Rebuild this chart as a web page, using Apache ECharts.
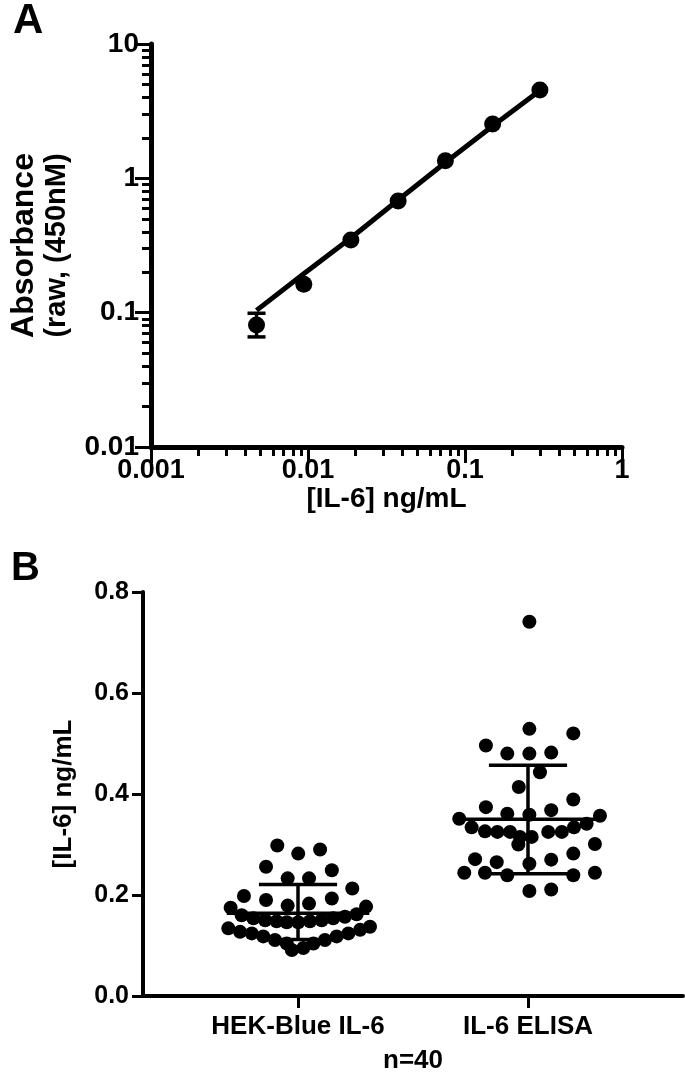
<!DOCTYPE html>
<html>
<head>
<meta charset="utf-8">
<script src="https://cdn.jsdelivr.net/npm/echarts@6/dist/echarts.min.js"></script>
<style>
html, body { margin: 0; padding: 0; background: #fff; }
#chart { width: 685px; height: 1075px; }
</style>
</head>
<body>
<div id="chart"></div>
<script>
// ---- panel A : standard curve ----
var aConc = [0.0047, 0.0094, 0.01875, 0.0375, 0.075, 0.15, 0.3];
var aAbs = [0.081, 0.163, 0.347, 0.677, 1.35, 2.54, 4.54];
var aFit = [0.104, 0.195, 0.36, 0.69, 1.31, 2.45, 4.5];
var aErrLow = [0.066, null, null, null, null, null, null];
var aErrHigh = [0.099, null, null, null, null, null, null];
var aXTicks = [0.001, 0.01, 0.1, 1];
var aYTicks = [0.01, 0.1, 1, 10];

// ---- panel B : HEK-Blue vs ELISA, n=40 ----
var bCategories = ['HEK-Blue IL-6', 'IL-6 ELISA'];
var hekValues = [0.298, 0.282, 0.290, 0.256, 0.249, 0.233, 0.233, 0.213, 0.198, 0.190,
    0.179, 0.183, 0.193, 0.175, 0.177,
    0.160, 0.154, 0.150, 0.148, 0.146, 0.146, 0.148, 0.150, 0.154, 0.157, 0.162,
    0.134, 0.127, 0.124, 0.118, 0.111, 0.104, 0.091, 0.095, 0.104, 0.111, 0.118, 0.124, 0.131, 0.137];
// horizontal scatter of each dot around its group, in category units
var hekSpread = [-0.090, 0.001, 0.096, -0.139, 0.147, -0.045, 0.048, 0.236, -0.235, -0.139,
    -0.045, 0.048, 0.147, -0.293, 0.296,
    -0.245, -0.194, -0.143, -0.093, -0.049, 0.001, 0.052, 0.103, 0.153, 0.204, 0.255,
    -0.303, -0.252, -0.201, -0.151, -0.100, -0.049, -0.027, 0.023, 0.067, 0.117, 0.168, 0.219, 0.270, 0.313];
var elisaValues = [0.741, 0.529, 0.520, 0.496, 0.480, 0.480, 0.482, 0.443, 0.414, 0.374,
    0.361, 0.359, 0.368, 0.389, 0.351, 0.357, 0.334, 0.326, 0.325, 0.325,
    0.315, 0.315, 0.325, 0.325, 0.334, 0.341, 0.300, 0.301, 0.271, 0.265,
    0.262, 0.270, 0.282, 0.244, 0.244, 0.239, 0.239, 0.244, 0.208, 0.211];
var elisaSpread = [0.006, 0.006, 0.197, -0.183, -0.090, 0.006, 0.101, 0.052, -0.040, -0.183,
    -0.090, 0.006, 0.101, 0.197, -0.299, 0.313, -0.245, -0.187, -0.133, -0.078,
    -0.035, 0.016, 0.088, 0.147, 0.200, 0.255, -0.042, 0.291, -0.230, -0.136,
    0.006, 0.101, 0.197, -0.277, -0.187, -0.090, 0.197, 0.291, 0.006, 0.101];
var bMean = [0.164, 0.350];
var bSdLow = [0.112, 0.242];
var bSdHigh = [0.221, 0.457];
var bYTicks = [0, 0.2, 0.4, 0.6, 0.8];

var FONT = '"Liberation Sans", Arial, sans-serif';

// log minor ticks 2..9 in every decade
function minorTicks(lo, hi) {
    var out = [];
    for (var d = lo; d < hi * 0.99; d *= 10) {
        for (var k = 2; k <= 9; k++) out.push(+(d * k).toPrecision(3));
    }
    return out;
}
function fmtNum(v) { return String(+Number(v).toPrecision(3)); }

var chart = echarts.init(document.getElementById('chart'));

var labelStyle = function (size) {
    return { color: '#000', fontFamily: FONT, fontWeight: 'bold', fontSize: size };
};
var tickLine = { color: '#000', width: 3 };

var pointsA = aConc.map(function (x, i) { return [x, aAbs[i]]; });
var fitA = aConc.map(function (x, i) { return [x, aFit[i]]; });
var errA = [];
aConc.forEach(function (x, i) {
    if (aErrLow[i] != null) errA.push([x, aErrLow[i], aErrHigh[i]]);
});
var dotsHek = hekValues.map(function (v, i) { return [0 + hekSpread[i], v]; });
var dotsElisa = elisaValues.map(function (v, i) { return [1 + elisaSpread[i], v]; });
var statsB = bMean.map(function (m, i) { return [i, m, bSdLow[i], bSdHigh[i]]; });

var option = {
    animation: false,
    backgroundColor: '#fff',
    grid: [
        { left: 146, top: 44, width: 476, height: 403 },
        { left: 143, top: 592, width: 540, height: 406 }
    ],
    graphic: [
        { type: 'text', left: 13, top: 0, style: { text: 'A', font: 'bold 42px ' + FONT, fill: '#000' } },
        { type: 'text', left: 11, top: 549, style: { text: 'B', font: 'bold 40px ' + FONT, fill: '#000' } }
    ],
    xAxis: [
        {
            type: 'log', gridIndex: 0, min: 0.001, max: 1, logBase: 10, position: 'bottom',
            name: '[IL-6] ng/mL', nameLocation: 'middle', nameGap: 34,
            nameTextStyle: labelStyle(28),
            axisLine: { onZero: false, lineStyle: { color: '#000', width: 5 } },
            axisTick: { length: 16, customValues: aXTicks, lineStyle: tickLine },
            axisLabel: Object.assign({ margin: 10, customValues: aXTicks, formatter: fmtNum }, labelStyle(27)),
            splitLine: { show: false }
        },
        {
            type: 'log', gridIndex: 0, min: 0.001, max: 1, logBase: 10, position: 'bottom', offset: 0,
            axisLine: { show: false, onZero: false },
            axisTick: { length: 9, customValues: minorTicks(0.001, 1), lineStyle: tickLine },
            axisLabel: { show: false },
            splitLine: { show: false }
        },
        {
            type: 'value', gridIndex: 1, min: -0.674, max: 1.674,
            name: 'n=40', nameLocation: 'middle', nameGap: 52,
            nameTextStyle: labelStyle(26),
            axisLine: { onZero: false, lineStyle: { color: '#000', width: 4 } },
            axisTick: { length: 12, customValues: [0, 1], lineStyle: tickLine },
            axisLabel: Object.assign({
                margin: 18, customValues: [0, 1],
                formatter: function (v) { return bCategories[Math.round(v)]; }
            }, labelStyle(26)),
            splitLine: { show: false }
        }
    ],
    yAxis: [
        {
            type: 'log', gridIndex: 0, min: 0.01, max: 10, logBase: 10, position: 'left',
            name: '{a|Absorbance}\n{b|(raw, (450nM)}', nameLocation: 'middle', nameGap: 78,
            nameTextStyle: {
                color: '#000', fontFamily: FONT, fontWeight: 'bold',
                rich: {
                    a: { fontFamily: FONT, fontWeight: 'bold', fontSize: 32, lineHeight: 34, color: '#000' },
                    b: { fontFamily: FONT, fontWeight: 'bold', fontSize: 29, lineHeight: 32, color: '#000' }
                }
            },
            axisLine: { onZero: false, lineStyle: { color: '#000', width: 5 } },
            axisTick: { length: 16, customValues: aYTicks, lineStyle: tickLine },
            axisLabel: Object.assign({ margin: 12, customValues: aYTicks, formatter: fmtNum }, labelStyle(28)),
            splitLine: { show: false }
        },
        {
            type: 'log', gridIndex: 0, min: 0.01, max: 10, logBase: 10, position: 'left', offset: 0,
            axisLine: { show: false, onZero: false },
            axisTick: { length: 9, customValues: minorTicks(0.01, 10), lineStyle: tickLine },
            axisLabel: { show: false },
            splitLine: { show: false }
        },
        {
            type: 'value', gridIndex: 1, min: 0, max: 0.8, interval: 0.2,
            name: '[IL-6] ng/mL', nameLocation: 'middle', nameGap: 66,
            nameTextStyle: labelStyle(26),
            axisLine: { onZero: false, lineStyle: { color: '#000', width: 4 } },
            axisTick: { length: 11, lineStyle: tickLine },
            axisLabel: Object.assign({ margin: 14, formatter: function (v) { return v.toFixed(1); } }, labelStyle(25)),
            splitLine: { show: false }
        }
    ],
    series: [
        {
            type: 'line', xAxisIndex: 0, yAxisIndex: 0, data: fitA,
            symbol: 'none', lineStyle: { color: '#000', width: 5 }, z: 3
        },
        {
            type: 'scatter', xAxisIndex: 0, yAxisIndex: 0, data: pointsA,
            symbolSize: 17, itemStyle: { color: '#000', opacity: 1 }, z: 4
        },
        {
            type: 'custom', xAxisIndex: 0, yAxisIndex: 0, data: errA,
            encode: { x: 0, y: [1, 2] }, z: 4,
            renderItem: function (params, api) {
                var x = api.value(0);
                var lo = api.coord([x, api.value(1)]);
                var hi = api.coord([x, api.value(2)]);
                var st = { stroke: '#000', lineWidth: 3.5 };
                return {
                    type: 'group', children: [
                        { type: 'line', shape: { x1: lo[0], y1: lo[1], x2: hi[0], y2: hi[1] }, style: st },
                        { type: 'line', shape: { x1: lo[0] - 9, y1: lo[1], x2: lo[0] + 9, y2: lo[1] }, style: st },
                        { type: 'line', shape: { x1: hi[0] - 9, y1: hi[1], x2: hi[0] + 9, y2: hi[1] }, style: st }
                    ]
                };
            }
        },
        {
            type: 'scatter', xAxisIndex: 2, yAxisIndex: 2, data: dotsHek,
            symbolSize: 14, itemStyle: { color: '#000', opacity: 1 }, z: 3
        },
        {
            type: 'scatter', xAxisIndex: 2, yAxisIndex: 2, data: dotsElisa,
            symbolSize: 14, itemStyle: { color: '#000', opacity: 1 }, z: 3
        },
        {
            type: 'custom', xAxisIndex: 2, yAxisIndex: 2, data: statsB,
            encode: { x: 0, y: [1, 2, 3] }, z: 4,
            renderItem: function (params, api) {
                var x = api.value(0);
                var c = api.coord([x, api.value(1)]);
                var lo = api.coord([x, api.value(2)]);
                var hi = api.coord([x, api.value(3)]);
                var w = api.coord([x + 0.31, api.value(1)])[0] - c[0];
                var cw = api.coord([x + 0.17, api.value(1)])[0] - c[0];
                var st = { stroke: '#000', lineWidth: 3.5 };
                return {
                    type: 'group', children: [
                        { type: 'line', shape: { x1: c[0] - w, y1: c[1], x2: c[0] + w, y2: c[1] }, style: st },
                        { type: 'line', shape: { x1: c[0], y1: hi[1], x2: c[0], y2: lo[1] }, style: st },
                        { type: 'line', shape: { x1: c[0] - cw, y1: hi[1], x2: c[0] + cw, y2: hi[1] }, style: st },
                        { type: 'line', shape: { x1: c[0] - cw, y1: lo[1], x2: c[0] + cw, y2: lo[1] }, style: st }
                    ]
                };
            }
        }
    ]
};

chart.setOption(option);
</script>
</body>
</html>
